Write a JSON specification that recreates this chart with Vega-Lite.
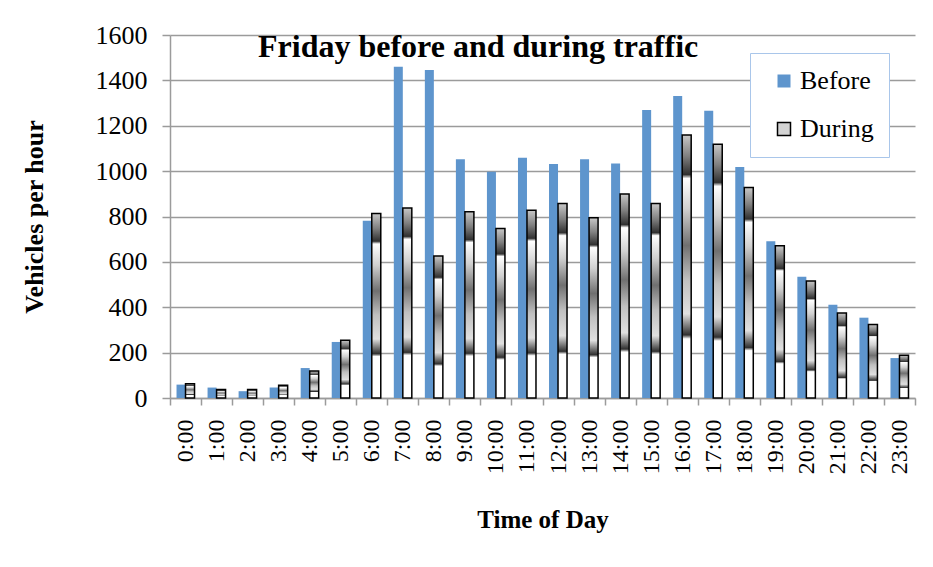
{
  "$schema": "https://vega.github.io/schema/vega-lite/v6.json",
  "autosize": {"type": "none"},
  "padding": {"left": 170, "top": 35, "right": 18, "bottom": 169},
  "width": 745,
  "height": 363,
  "background": "white",
  "title": {
    "text": "Friday before and during traffic",
    "font": "Liberation Serif",
    "fontSize": 32,
    "fontWeight": "bold",
    "color": "black",
    "anchor": "start",
    "frame": "group",
    "baseline": "alphabetic",
    "offset": -67,
    "dx": 88
  },
  "data": {
    "values": [
      {"time": "0:00", "series": "Before", "value": 59}, {"time": "0:00", "series": "During", "value": 63},
      {"time": "1:00", "series": "Before", "value": 46}, {"time": "1:00", "series": "During", "value": 38},
      {"time": "2:00", "series": "Before", "value": 30}, {"time": "2:00", "series": "During", "value": 37},
      {"time": "3:00", "series": "Before", "value": 46}, {"time": "3:00", "series": "During", "value": 56},
      {"time": "4:00", "series": "Before", "value": 132}, {"time": "4:00", "series": "During", "value": 119},
      {"time": "5:00", "series": "Before", "value": 247}, {"time": "5:00", "series": "During", "value": 254},
      {"time": "6:00", "series": "Before", "value": 781}, {"time": "6:00", "series": "During", "value": 813},
      {"time": "7:00", "series": "Before", "value": 1460}, {"time": "7:00", "series": "During", "value": 838},
      {"time": "8:00", "series": "Before", "value": 1446}, {"time": "8:00", "series": "During", "value": 626},
      {"time": "9:00", "series": "Before", "value": 1052}, {"time": "9:00", "series": "During", "value": 821},
      {"time": "10:00", "series": "Before", "value": 997}, {"time": "10:00", "series": "During", "value": 747},
      {"time": "11:00", "series": "Before", "value": 1059}, {"time": "11:00", "series": "During", "value": 828},
      {"time": "12:00", "series": "Before", "value": 1031}, {"time": "12:00", "series": "During", "value": 857},
      {"time": "13:00", "series": "Before", "value": 1052}, {"time": "13:00", "series": "During", "value": 794},
      {"time": "14:00", "series": "Before", "value": 1034}, {"time": "14:00", "series": "During", "value": 899},
      {"time": "15:00", "series": "Before", "value": 1269}, {"time": "15:00", "series": "During", "value": 857},
      {"time": "16:00", "series": "Before", "value": 1331}, {"time": "16:00", "series": "During", "value": 1159},
      {"time": "17:00", "series": "Before", "value": 1266}, {"time": "17:00", "series": "During", "value": 1118},
      {"time": "18:00", "series": "Before", "value": 1018}, {"time": "18:00", "series": "During", "value": 928},
      {"time": "19:00", "series": "Before", "value": 691}, {"time": "19:00", "series": "During", "value": 671},
      {"time": "20:00", "series": "Before", "value": 534}, {"time": "20:00", "series": "During", "value": 516},
      {"time": "21:00", "series": "Before", "value": 411}, {"time": "21:00", "series": "During", "value": 375},
      {"time": "22:00", "series": "Before", "value": 354}, {"time": "22:00", "series": "During", "value": 324},
      {"time": "23:00", "series": "Before", "value": 176}, {"time": "23:00", "series": "During", "value": 188}
    ]
  },
  "encoding": {
    "x": {
      "field": "time",
      "type": "nominal",
      "sort": null,
      "scale": {"paddingInner": 0, "paddingOuter": 0},
      "axis": {
        "title": "Time of Day",
        "titleFont": "Liberation Serif",
        "titleFontSize": 25,
        "titleFontWeight": "bold",
        "titleColor": "black",
        "titlePadding": 34,
        "labelFont": "Liberation Serif",
        "labelFontSize": 24,
        "labelColor": "black",
        "labelAngle": -90,
        "labelPadding": 14,
        "tickBand": "extent",
        "tickSize": 7,
        "tickColor": "#9B9B9B",
        "tickWidth": 1.5,
        "domainColor": "#9B9B9B",
        "domainWidth": 1.5,
        "grid": false
      }
    },
    "xOffset": {
      "field": "series",
      "type": "nominal",
      "scale": {"domain": ["Before", "During"], "paddingInner": 0, "paddingOuter": 0.724}
    },
    "y": {
      "field": "value",
      "type": "quantitative",
      "scale": {"domain": [0, 1600], "nice": false},
      "axis": {
        "title": "Vehicles per hour",
        "titleFont": "Liberation Serif",
        "titleFontSize": 26,
        "titleFontWeight": "bold",
        "titleColor": "black",
        "titlePadding": 48,
        "labelFont": "Liberation Serif",
        "labelFontSize": 26,
        "labelColor": "black",
        "labelPadding": 15,
        "format": "d",
        "values": [0, 200, 400, 600, 800, 1000, 1200, 1400, 1600],
        "tickSize": 8,
        "tickColor": "#9B9B9B",
        "tickWidth": 1.5,
        "domainColor": "#9B9B9B",
        "domainWidth": 1.5,
        "grid": true,
        "gridColor": "#9B9B9B",
        "gridWidth": 1.5
      }
    }
  },
  "layer": [
    {
      "transform": [{"filter": "datum.series === 'Before'"}],
      "mark": {"type": "bar", "strokeWidth": 1.5},
      "encoding": {
        "color": {
          "field": "series",
          "type": "nominal",
          "scale": {"domain": ["Before", "During"], "range": ["#5E95CD", "#d4d4d4"]},
          "legend": {
            "title": null,
            "orient": "none",
            "legendX": 580,
            "legendY": 18,
            "padding": 15,
            "strokeColor": "#A9C6EA",
            "fillColor": "white",
            "symbolType": "square",
            "symbolSize": 169,
            "symbolStrokeWidth": 1.5,
            "symbolOffset": 6,
            "labelOffset": 3,
            "rowPadding": 22,
            "labelFont": "Liberation Serif",
            "labelFontSize": 26,
            "labelColor": "black"
          }
        },
        "stroke": {
          "field": "series",
          "type": "nominal",
          "scale": {"domain": ["Before", "During"], "range": ["rgba(0,0,0,0)", "#000000"]},
          "legend": {
            "title": null,
            "orient": "none",
            "legendX": 580,
            "legendY": 18,
            "padding": 15,
            "strokeColor": "#A9C6EA",
            "fillColor": "white",
            "symbolType": "square",
            "symbolSize": 169,
            "symbolStrokeWidth": 1.5,
            "symbolOffset": 6,
            "labelOffset": 3,
            "rowPadding": 22,
            "labelFont": "Liberation Serif",
            "labelFontSize": 26,
            "labelColor": "black"
          }
        }
      }
    },
    {
      "transform": [{"filter": "datum.series === 'During'"}],
      "mark": {
        "type": "bar",
        "stroke": "#000000",
        "strokeWidth": 1.5,
        "fill": {
          "gradient": "linear",
          "x1": 0, "y1": 0, "x2": 0, "y2": 1,
          "stops": [
            {"offset": 0, "color": "#c8c8c8"},
            {"offset": 0.08, "color": "#808080"},
            {"offset": 0.15, "color": "#303030"},
            {"offset": 0.165, "color": "#ffffff"},
            {"offset": 0.28, "color": "#d0d0d0"},
            {"offset": 0.42, "color": "#707070"},
            {"offset": 0.55, "color": "#c0c0c0"},
            {"offset": 0.68, "color": "#e0e0e0"},
            {"offset": 0.76, "color": "#303030"},
            {"offset": 0.775, "color": "#ffffff"},
            {"offset": 1, "color": "#ffffff"}
          ]
        }
      }
    }
  ],
  "config": {
    "view": {"stroke": null},
    "bar": {"opacity": 1}
  }
}
